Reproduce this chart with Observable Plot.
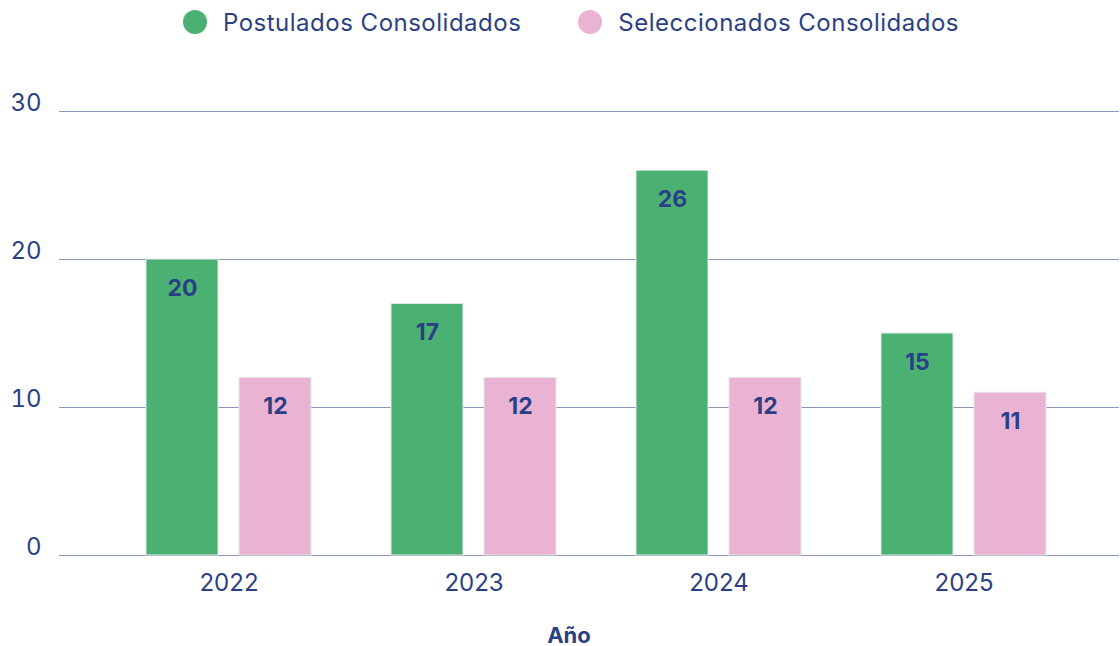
<!DOCTYPE html>
<html>
<head>
<meta charset="utf-8">
<script src="https://cdn.jsdelivr.net/npm/d3@7"></script>
<script src="https://cdn.jsdelivr.net/npm/@observablehq/plot@0.6"></script>
<style>
  html, body { margin: 0; padding: 0; background: #ffffff; }
  body { width: 1120px; height: 646px; position: relative; overflow: hidden; font-family: Inter, "Noto Sans", sans-serif; color: #2B3F86; }
  #legend { height: 44px; display: flex; align-items: center; padding-left: 183px; font-size: 24px; letter-spacing: 0.5px; }
  .item { display: flex; align-items: center; }
  .sw { width: 24px; height: 24px; border-radius: 50%; margin-right: 16px; }
  #xlabel { position: absolute; left: 0; width: 1138px; top: 620px; text-align: center; font-weight: 700; font-size: 22px; line-height: 30px; }
  svg { display: block; }
</style>
</head>
<body>
<div id="legend"></div>
<div id="chart"></div>
<div id="xlabel">Año</div>
<script>
const years = ["2022", "2023", "2024", "2025"];
const seriesNames = ["Postulados Consolidados", "Seleccionados Consolidados"];
const postulados = [20, 17, 26, 15];
const seleccionados = [12, 12, 12, 11];
const seriesColors = ["#4BB173", "#EBB3D3"];
const yTicks = [0, 10, 20, 30];
const textColor = "#2B3F86";

// legend
const legend = document.getElementById("legend");
seriesNames.forEach((name, i) => {
  const item = document.createElement("div");
  item.className = "item";
  item.style.marginRight = i === 0 ? "57px" : "0";
  const sw = document.createElement("div");
  sw.className = "sw";
  sw.style.background = seriesColors[i];
  const label = document.createElement("span");
  label.textContent = name;
  item.appendChild(sw);
  item.appendChild(label);
  legend.appendChild(item);
});

const data = [];
years.forEach((y, i) => {
  data.push({year: y, series: seriesNames[0], value: postulados[i]});
  data.push({year: y, series: seriesNames[1], value: seleccionados[i]});
});

const chart = Plot.plot({
  width: 1120,
  height: 602,
  marginLeft: 105,
  marginRight: 33,
  marginTop: 67,
  marginBottom: 91,
  style: {fontFamily: "Inter, 'Noto Sans', sans-serif", color: textColor, background: "#ffffff"},
  fx: {domain: years, padding: 0, label: null},
  x: {domain: seriesNames, paddingInner: 0.23, paddingOuter: 0.43, axis: null},
  y: {domain: [0, 30], label: null},
  color: {domain: seriesNames, range: seriesColors},
  marks: [
    Plot.ruleY(yTicks, {stroke: "#8A97B8", strokeWidth: 1.2, insetLeft: -47, insetRight: -33}),
    Plot.barY(data, {fx: "year", x: "series", y: "value", fill: "series", stroke: "#e4e8ef", strokeWidth: 1}),
    Plot.text(data, {fx: "year", x: "series", y: "value", text: d => String(d.value), dy: 29, fill: textColor, fontWeight: 700, fontSize: 23, lineAnchor: "middle"}),
    Plot.axisY(yTicks, {anchor: "left", tickSize: 0, tickPadding: 65, dy: -8, fontSize: 24, fill: textColor, label: null, tickFormat: d => String(d)}),
    Plot.axisFx({anchor: "bottom", tickSize: 0, tickPadding: 18, fontSize: 24, fill: textColor, label: null})
  ]
});
document.getElementById("chart").appendChild(chart);
</script>
</body>
</html>
